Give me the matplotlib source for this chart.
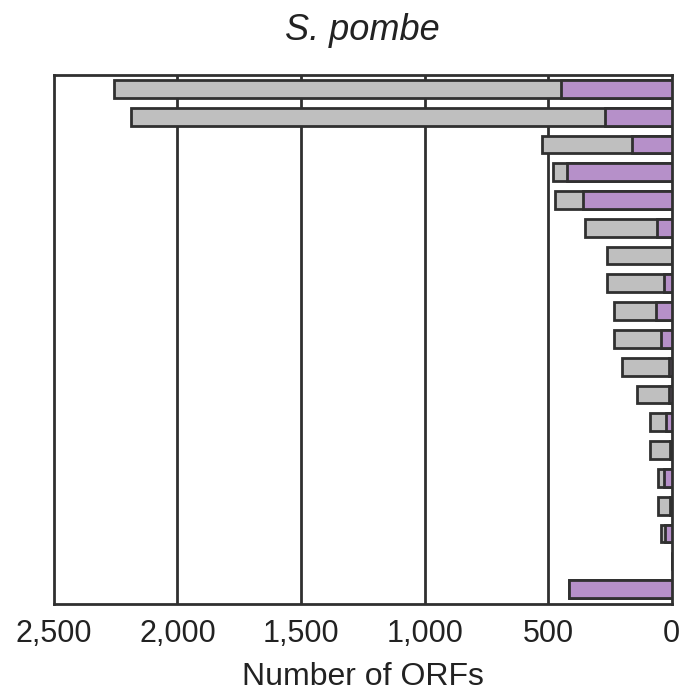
import matplotlib
matplotlib.use("Agg")
import matplotlib.pyplot as plt
from matplotlib.ticker import FuncFormatter

# Data, top row first
total_orfs = [2257, 2188, 526, 481, 473, 352, 263, 263, 235, 235, 202, 142, 89, 89, 57, 57, 45, 0, 417]
subset_orfs = [449, 271, 162, 425, 360, 61, 0, 32, 65, 45, 10, 10, 24, 6, 32, 6, 28, 0, 417]
x_ticks = [2500, 2000, 1500, 1000, 500, 0]
title = "S. pombe"
x_label = "Number of ORFs"

plt.rcParams['font.family'] = ['Liberation Sans', 'DejaVu Sans']

fig = plt.figure(figsize=(6.82, 6.94), dpi=100)
ax = fig.add_axes([0.079, 0.130, 0.906, 0.762])

edge = "#303030"
rows = list(range(len(total_orfs)))
h = 0.64
ax.barh(rows, total_orfs, height=h, color="#bfbfbf", edgecolor=edge, linewidth=2.0, zorder=2)
ax.barh(rows, subset_orfs, height=h, color="#b690c9", edgecolor=edge, linewidth=2.0, zorder=3)

ax.set_xlim(2500, 0)
ax.set_ylim(18.53, -0.5)
ax.set_xticks(x_ticks)
ax.xaxis.set_major_formatter(FuncFormatter(lambda v, p: f"{int(v):,}"))
ax.tick_params(axis='x', length=0, labelsize=22, pad=11, colors="#222222")
ax.set_yticks([])
for v in x_ticks[1:-1]:
    ax.axvline(v, color=edge, linewidth=2.0, zorder=1)
for s in ax.spines.values():
    s.set_color(edge)
    s.set_linewidth(2.0)
ax.set_xlabel(x_label, fontsize=23, labelpad=9, color="#222222")
ax.set_title(title, fontsize=26, style='italic', pad=25, color="#222222")

fig.savefig("out.png", dpi=100)
